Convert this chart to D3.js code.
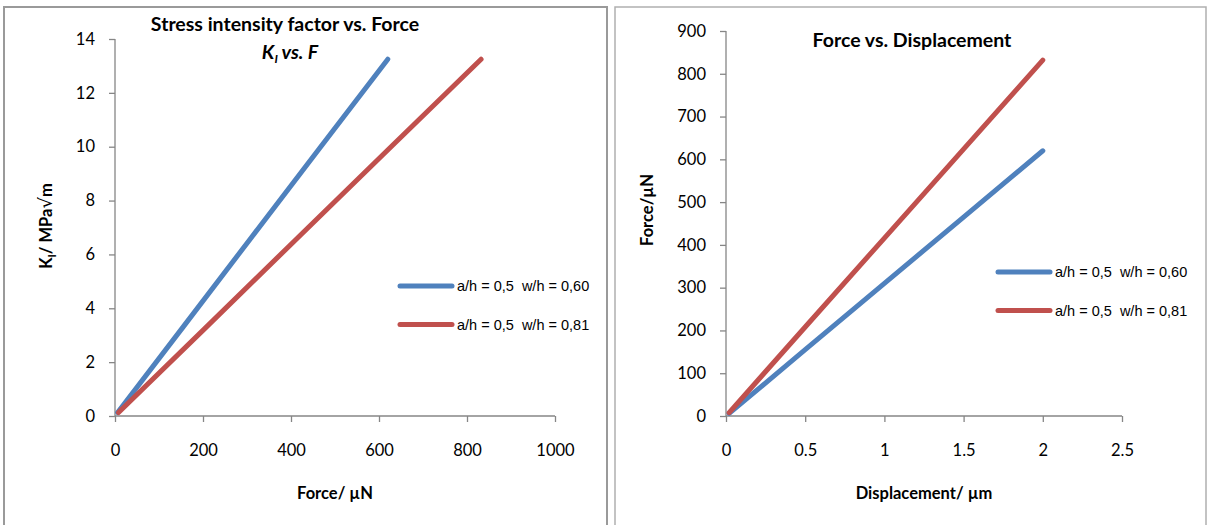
<!DOCTYPE html>
<html>
<head>
<meta charset="utf-8">
<script src="https://cdn.jsdelivr.net/npm/d3@7"></script>
<style>
  body { margin: 0; background: #fff; }
  svg text { fill: #000; white-space: pre; }
</style>
</head>
<body>
<svg id="chart"></svg>
<script>
// values
const displacement = [0.02, 0.5, 1, 1.5, 2];          // µm
const forceA = [6, 155, 310, 465, 620];               // µN, w/h = 0,60
const forceB = [8, 208, 416, 624, 832];               // µN, w/h = 0,81
const kA = [0.13, 3.31, 6.63, 9.94, 13.25];           // MPa√m
const kB = [0.13, 3.31, 6.63, 9.94, 13.25];
const seriesNames = ["a/h = 0,5  w/h = 0,60", "a/h = 0,5  w/h = 0,81"];
const colors = ["#4f81bd", "#c0504d"];

const kTicks = [0, 2, 4, 6, 8, 10, 12, 14];
const forceTicks = [0, 200, 400, 600, 800, 1000];
const fTicks = [0, 100, 200, 300, 400, 500, 600, 700, 800, 900];
const dTicks = [0, 0.5, 1, 1.5, 2, 2.5];

const svg = d3.select("#chart").attr("width", 1207).attr("height", 525);

const titleFont = "Lato, 'Open Sans', sans-serif";

// panel frames
const frame = svg.append("g").attr("fill", "none");
frame.append("path").attr("d", "M4,525V7H607V525").attr("stroke", "#9a9a9a").attr("stroke-width", 2);
frame.append("path").attr("d", "M615,525V7H1206V525").attr("stroke", "#b0b0b0").attr("stroke-width", 1.5);

function drawPanel(opt) {
  const g = svg.append("g");
  const x = d3.scaleLinear().domain(opt.xDomain).range(opt.xRange);
  const y = d3.scaleLinear().domain(opt.yDomain).range(opt.yRange);

  const xAxis = g.append("g")
    .attr("transform", "translate(0," + opt.yRange[0] + ")")
    .call(d3.axisBottom(x).tickValues(opt.xTicks).tickSize(6).tickPadding(22).tickFormat(d3.format("")));
  const yAxis = g.append("g")
    .attr("transform", "translate(" + opt.xRange[0] + ",0)")
    .call(d3.axisLeft(y).tickValues(opt.yTicks).tickSize(6).tickPadding(14).tickFormat(d3.format("")));
  [xAxis, yAxis].forEach(function (a) {
    a.selectAll("path, line").attr("stroke", "#868686").attr("stroke-width", 1.3);
    a.selectAll("text").style("font-family", titleFont).style("font-size", "16.5px").attr("fill", "#000");
  });
  yAxis.select(".domain").attr("d", "M0," + opt.yRange[0] + "V" + opt.yRange[1]);
  xAxis.select(".domain").attr("d", "M" + opt.xRange[0] + ",0H" + opt.xRange[1]);

  const line = d3.line().x(function (d) { return x(d[0]); }).y(function (d) { return y(d[1]); });
  opt.series.forEach(function (s, i) {
    g.append("path")
      .datum(d3.zip(s.x, s.y))
      .attr("d", line)
      .attr("fill", "none")
      .attr("stroke", colors[i])
      .attr("stroke-width", 5)
      .attr("stroke-linecap", "round");
  });

  // legend
  const leg = g.append("g").attr("transform", "translate(" + opt.legend[0] + "," + opt.legend[1] + ")");
  seriesNames.forEach(function (n, i) {
    const row = leg.append("g").attr("transform", "translate(0," + i * 38.5 + ")");
    row.append("line").attr("x1", 0).attr("x2", 52).attr("stroke", colors[i])
      .attr("stroke-width", 5).attr("stroke-linecap", "round");
    row.append("text").attr("x", 57).attr("y", 5).text(n)
      .style("font-family", "'Liberation Sans', Arial, sans-serif").style("font-size", "14.5px").attr("fill", "#333");
  });

  // axis titles
  g.append("text").attr("x", opt.xTitle[0]).attr("y", opt.xTitle[1]).attr("text-anchor", "middle")
    .style("font-family", titleFont).style("font-weight", "bold").style("font-size", "16.5px").text(opt.xLabel);
  const yt = g.append("text")
    .attr("transform", "translate(" + opt.yTitle[0] + "," + opt.yTitle[1] + ") rotate(-90)")
    .attr("text-anchor", "middle")
    .style("font-family", titleFont).style("font-weight", "bold").style("font-size", "16.5px");
  opt.yLabel(yt);
  return g;
}

const left = drawPanel({
  xDomain: [0, 1000], xRange: [115, 555],
  yDomain: [0, 14], yRange: [416, 39],
  xTicks: forceTicks, yTicks: kTicks,
  series: [{ x: forceA, y: kA }, { x: forceB, y: kB }],
  legend: [400, 286],
  xTitle: [335, 499], xLabel: "Force/ µN",
  yTitle: [52, 226],
  yLabel: function (t) {
    t.append("tspan").text("K");
    t.append("tspan").attr("font-size", "11px").attr("dy", 4).text("I");
    t.append("tspan").attr("dy", -4).text("/ MPa");
    t.append("tspan").style("font-family", "'DejaVu Sans', sans-serif").style("font-weight", "normal").style("font-size", "18px").text("√");
    t.append("tspan").text("m");
  }
});
left.append("text").attr("x", 285).attr("y", 31).attr("text-anchor", "middle")
  .style("font-family", titleFont).style("font-weight", "bold").style("font-size", "19.5px")
  .text("Stress intensity factor vs. Force");
const sub = left.append("text").attr("x", 290).attr("y", 59).attr("text-anchor", "middle")
  .style("font-family", titleFont).style("font-weight", "bold").style("font-style", "italic").style("font-size", "19.5px");
sub.append("tspan").text("K");
sub.append("tspan").attr("font-size", "12px").attr("dy", 4).text("I");
sub.append("tspan").attr("dy", -4).text(" vs. F");

const right = drawPanel({
  xDomain: [0, 2.5], xRange: [726, 1122],
  yDomain: [0, 900], yRange: [416, 31],
  xTicks: dTicks, yTicks: fTicks,
  series: [{ x: displacement, y: forceA }, { x: displacement, y: forceB }],
  legend: [998, 272],
  xTitle: [924, 499], xLabel: "Displacement/ µm",
  yTitle: [653, 210],
  yLabel: function (t) { t.text("Force/µN"); }
});
right.append("text").attr("x", 912).attr("y", 47).attr("text-anchor", "middle")
  .style("font-family", titleFont).style("font-weight", "bold").style("font-size", "19.5px")
  .text("Force vs. Displacement");
</script>
</body>
</html>
